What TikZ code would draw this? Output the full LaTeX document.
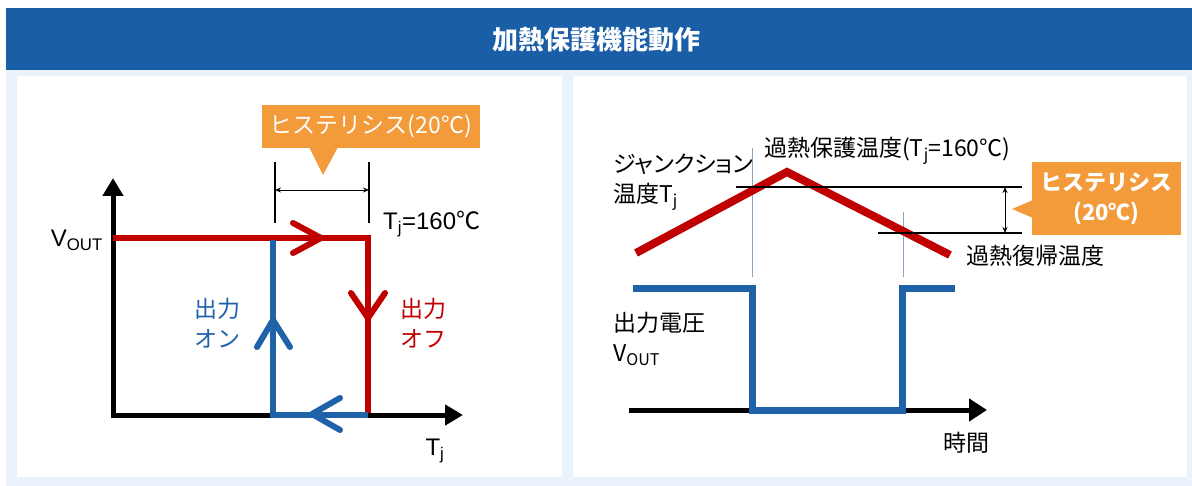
\documentclass[tikz,border=0pt]{standalone}
\usepackage{fontspec}
\setmainfont{Liberation Sans}
\newfontfamily\jpfont{Noto Sans CJK JP}
\newfontfamily\jpprop{Noto Sans CJK JP}[RawFeature=+palt]
\usetikzlibrary{arrows.meta,positioning}
\tikzstyle{plotArea} = [x = 1pt, y = -1pt]
\definecolor{bannerColor}{RGB}{27,94,168}
\definecolor{panelBack}{RGB}{234,243,251}
\definecolor{hotRed}{RGB}{192,0,0}
\definecolor{onBlue}{RGB}{31,98,170}
\definecolor{calloutOrange}{RGB}{243,154,58}
\definecolor{guideColor}{RGB}{140,165,195}
\tikzstyle{axisLine} = [color=black, line width=5pt, {Triangle[length=18pt,width=20pt]}-{Triangle[length=18pt,width=20pt]}]
\tikzstyle{timeAxis} = [color=black, line width=5pt, -{Triangle[length=18pt,width=22pt]}]
\tikzstyle{hotLine} = [color=hotRed, line width=6pt]
\tikzstyle{onLine} = [color=onBlue, line width=6pt]
\tikzstyle{chevronLine} = [line width=6pt, line cap=round, line join=round]
\tikzstyle{levelLine} = [color=black, line width=2.5pt]
\tikzstyle{spanArrow} = [color=black, line width=.9pt, {Stealth[length=6pt,width=5pt]}-{Stealth[length=6pt,width=5pt]}]
\tikzstyle{guideLine} = [color=guideColor, line width=.8pt]
\tikzstyle{calloutBox} = [fill=calloutOrange, text=white, inner sep=0pt, align=center]
\tikzstyle{plainText} = [inner sep=0pt, align=left, font=\labelSize]
\tikzstyle{jpText} = [plainText, font=\jpSize\jpfont]
\newcommand{\labelSize}{\fontsize{24}{30}\selectfont}
\newcommand{\jpSize}{\fontsize{23}{30}\selectfont}
\newcommand{\degC}{{\jpfont ℃}}
\newcommand{\hysteresisMark}[1]{\draw [levelLine] (#1,162) -- (#1,223);}

\begin{document}
\begin{tikzpicture}[plotArea]
  \useasboundingbox (0,0) rectangle (1192,486);
  % background and title
  \fill [panelBack] (6,70) rectangle (1192,486);
  \fill [white] (17,76) rectangle (562,477);
  \fill [white] (573,76) rectangle (1187,477);
  \fill [bannerColor] (6,8) rectangle (1192,70);
  \node (title) [text=white, font=\fontsize{26}{30}\selectfont\jpfont\bfseries] at (596,40) {加熱保護機能動作};

  % left: hysteresis loop
  \draw [axisLine] (113,178) -- (113,415) -- (463,415);
  \draw [hotLine] (113,238) -- (368,238) -- (368,413);
  \draw [onLine] (273,240) -- (273,415) -- (368,415);
  \draw [chevronLine, hotRed] (293,223) -- (321,238) -- (293,253);
  \draw [chevronLine, hotRed] (351,293) -- (368,318) -- (385,293);
  \draw [chevronLine, onBlue] (257,347) -- (273,320) -- (290,347);
  \draw [chevronLine, onBlue] (340,398) -- (312,414) -- (340,430);
  \hysteresisMark{275}
  \hysteresisMark{369}
  \draw [spanArrow] (275,190) -- (369,190);
  \node (hysLeft) [calloutBox, minimum width=218pt, minimum height=43pt, font=\fontsize{23}{26}\selectfont\jpfont] at (371,126.5)
    {ヒステリシス(20℃)};
  \fill [calloutOrange] (309,147) -- (323,175) -- (338,147) -- cycle;
  \node (tripTemp) [plainText, anchor=west] at (383,224) {T\textsubscript{j}=160\degC};
  \node (voutLeft) [plainText, anchor=east] at (103,240) {V\textsubscript{OUT}};
  \node (tjLabel) [plainText] at (435,451) {T\textsubscript{j}};
  \node (onLabel) [jpText, align=center, text=onBlue] at (217,323) {出力\\オン};
  \node (offLabel) [jpText, align=center, text=hotRed] at (423,323) {出力\\オフ};

  % right: time chart
  \draw [guideLine] (752,148) -- (752,277);
  \draw [guideLine] (903,212) -- (903,277);
  \draw [hotRed, line width=8pt] (636,253) -- (787,172) -- (950,255);
  \draw [levelLine] (736,187) -- (1022,187);
  \draw [levelLine] (878,233) -- (1022,233);
  \draw [spanArrow] (1005,187) -- (1005,233);
  \draw [timeAxis] (629,410) -- (987,410);
  \draw [onBlue, line width=7pt] (633,289) -- (752,289) -- (752,410) -- (902,410) -- (902,289) -- (955,289);
  \node (hysRight) [calloutBox, minimum width=149pt, minimum height=73pt, font=\fontsize{22}{30}\selectfont\jpfont\bfseries] at (1106.5,198.5)
    {ヒステリシス\\(20℃)};
  \fill [calloutOrange] (1033,200) -- (1012,209) -- (1033,218) -- cycle;
  \node (protectTemp) [jpText, anchor=west] at (764,151) {過熱保護温度(T\textsubscript{j}=160℃)};
  \node (junctionLabel) [jpText, font=\jpSize\jpprop, anchor=west] at (613,182) {ジャンクション\\温度T\textsubscript{j}};
  \node (recoverLabel) [jpText, anchor=west] at (966,256) {過熱復帰温度};
  \node (voutRight) [jpText, anchor=west] at (613,339) {出力電圧\\V\textsubscript{OUT}};
  \node (timeLabel) [jpText] at (966,443) {時間};
\end{tikzpicture}
\end{document}
